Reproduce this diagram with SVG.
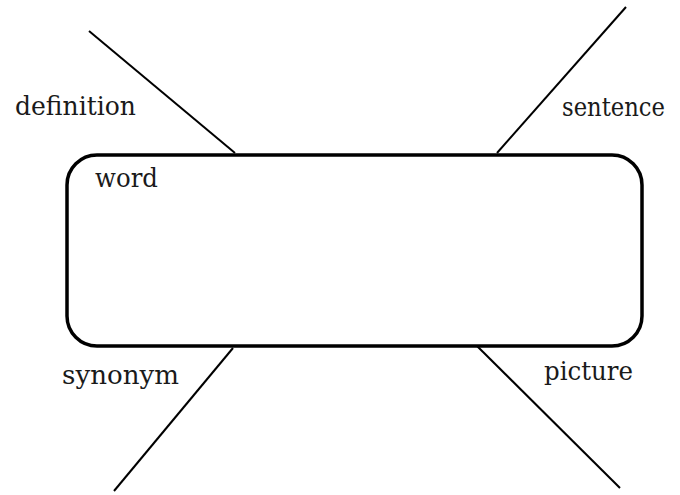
<svg xmlns="http://www.w3.org/2000/svg" width="680" height="495" viewBox="0 0 680 495">
<style>
text{font-family:'DejaVu Serif',serif;font-size:26px;fill:#1a1a1a;}
.ln{stroke:#000;stroke-width:2;fill:none;}
.box{stroke:#000;stroke-width:3.5;fill:#fff;}
</style>
<rect width="680" height="495" fill="#fff"/>
<g id="connectors">
<line class="ln" x1="89" y1="31" x2="235" y2="153"/>
<line class="ln" x1="626" y1="7" x2="497" y2="153"/>
<line class="ln" x1="233" y1="348" x2="114" y2="491"/>
<line class="ln" x1="474" y1="343" x2="620" y2="488"/>
</g>
<g id="word">
<rect class="box" x="67" y="155" width="575" height="191" rx="30" ry="30"/>
<text x="95" y="187" textLength="63" lengthAdjust="spacingAndGlyphs">word</text>
</g>
<g id="definition"><text x="15" y="115" textLength="121" lengthAdjust="spacingAndGlyphs">definition</text></g>
<g id="sentence"><text x="562" y="116" textLength="103" lengthAdjust="spacingAndGlyphs">sentence</text></g>
<g id="synonym"><text x="62" y="384" textLength="117" lengthAdjust="spacingAndGlyphs">synonym</text></g>
<g id="picture"><text x="544" y="380" textLength="89" lengthAdjust="spacingAndGlyphs">picture</text></g>
</svg>
